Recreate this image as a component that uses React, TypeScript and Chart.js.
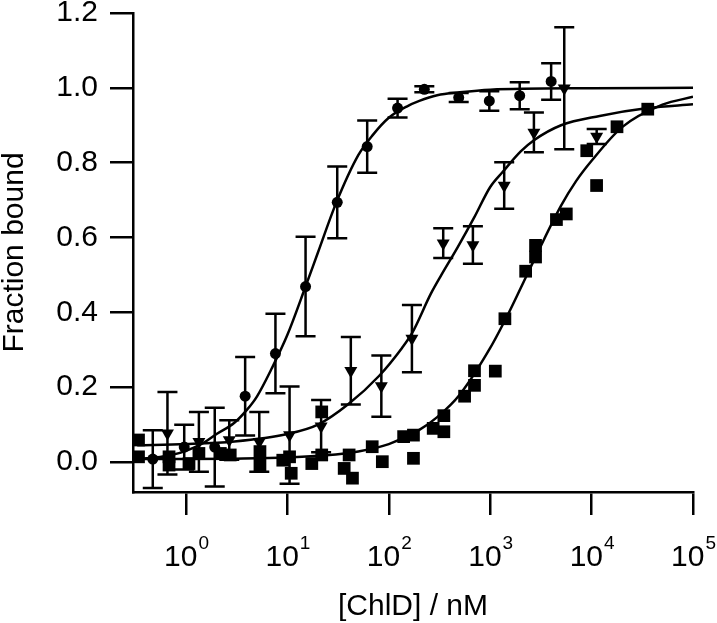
import React, { useEffect, useRef } from 'react';
import { Chart, registerables } from 'chart.js';

Chart.register(...registerables);

const FONT = "'Liberation Sans', Arial, Helvetica, sans-serif";

// ---- circles (with error bars)
const circleX = [0.47, 0.96, 1.92, 3.83, 7.62, 15.1, 31, 61.2, 122, 224, 489, 980, 1954, 3990];
const circleY = [0.008, 0.04, 0.04, 0.176, 0.29, 0.469, 0.694, 0.843, 0.946, 0.996, 0.974, 0.965, 0.979, 1.017];
const circleErr = [0.077, 0.06, 0.105, 0.105, 0.106, 0.133, 0.096, 0.07, 0.025, 0.008, 0.012, 0.026, 0.036, 0.049];

// ---- down triangles (with error bars)
const triX = [0.656, 1.34, 2.67, 5.28, 10.5, 21.5, 42.2, 84.4, 169, 344, 675, 1374, 2698, 5373, 11222];
const triY = [0.077, 0.054, 0.059, 0.054, 0.072, 0.096, 0.244, 0.203, 0.33, 0.585, 0.58, 0.739, 0.881, 0.999, 0.87];
const triErr = [0.11, 0.08, 0.053, 0.08, 0.13, 0.07, 0.09, 0.082, 0.09, 0.04, 0.05, 0.062, 0.053, 0.163, 0.02];

// ---- squares
const squareX = [0.34, 0.34, 0.68, 0.68, 1.07, 1.34, 2.18, 2.73, 5.36, 5.36, 9.0, 10.5, 10.9, 17.4, 21.8, 21.8, 36.3, 40.6, 43.8, 68.6, 86.3, 140, 175, 175, 274, 349, 349, 559, 700, 700, 1123, 1396, 2237, 2800, 2800, 4500, 5630, 8960, 11200, 17800, 35800];
const squareY = [0.059, 0.014, 0.014, -0.008, -0.004, 0.023, 0.023, 0.019, 0.028, -0.008, 0.005, 0.014, -0.03, -0.004, 0.019, 0.134, -0.017, 0.019, -0.043, 0.041, 0.001, 0.068, 0.072, 0.01, 0.09, 0.124, 0.081, 0.176, 0.244, 0.205, 0.243, 0.383, 0.51, 0.579, 0.548, 0.648, 0.663, 0.832, 0.739, 0.896, 0.943];

// ---- fitted curves
const circleFitX = [0.33, 0.5, 0.7, 1, 1.5, 2, 3, 4, 5, 7, 10, 15, 20, 30, 50, 70, 100, 150, 200, 300, 500, 1000, 10000, 100000];
const circleFitY = [0.008, 0.012, 0.018, 0.03, 0.052, 0.075, 0.105, 0.14, 0.175, 0.25, 0.34, 0.467, 0.56, 0.69, 0.82, 0.875, 0.92, 0.95, 0.965, 0.98, 0.988, 0.995, 0.999, 1.0];

const triFitX = [0.33, 1, 3, 10, 20, 40, 80, 135, 170, 260, 330, 480, 700, 1000, 1325, 2000, 2700, 5000, 12000, 36000, 100000];
const triFitY = [0.045, 0.048, 0.055, 0.075, 0.1, 0.155, 0.23, 0.305, 0.345, 0.45, 0.5, 0.575, 0.655, 0.735, 0.775, 0.83, 0.86, 0.9, 0.925, 0.946, 0.956];

const squareFitX = [0.33, 1, 3, 10, 30, 50, 100, 200, 300, 500, 1000, 1500, 2000, 3000, 5000, 7000, 10000, 20000, 50000, 100000];
const squareFitY = [0.008, 0.008, 0.009, 0.012, 0.02, 0.028, 0.048, 0.086, 0.12, 0.18, 0.305, 0.395, 0.465, 0.565, 0.685, 0.75, 0.805, 0.895, 0.955, 0.976];

// ---- axes
const yTicks = [0, 0.2, 0.4, 0.6, 0.8, 1.0, 1.2];
const xTickExponents = [0, 1, 2, 3, 4, 5];
const xMin = 0.33;
const xMax = 100000;
const yMin = -0.08;
const yMax = 1.2;

const pts = (xs: number[], ys: number[]) => xs.map((x, i) => ({ x, y: ys[i] }));

const errorBarPlugin = {
  id: 'errorBars',
  afterDatasetsDraw(chart: any) {
    const { ctx } = chart;
    const xs = chart.scales.x;
    const ys = chart.scales.y;
    ctx.save();
    ctx.strokeStyle = '#000';
    ctx.lineWidth = 2.5;
    const sets: [number[], number[], number[]][] = [
      [circleX, circleY, circleErr],
      [triX, triY, triErr],
    ];
    for (const [xv, yv, ev] of sets) {
      xv.forEach((v, i) => {
        const px = xs.getPixelForValue(v);
        const top = ys.getPixelForValue(yv[i] + ev[i]);
        const bot = ys.getPixelForValue(yv[i] - ev[i]);
        ctx.beginPath();
        ctx.moveTo(px, top);
        ctx.lineTo(px, bot);
        ctx.moveTo(px - 10, top);
        ctx.lineTo(px + 10, top);
        ctx.moveTo(px - 10, bot);
        ctx.lineTo(px + 10, bot);
        ctx.stroke();
      });
    }
    ctx.restore();
  },
};

const xLabelPlugin = {
  id: 'xPowerLabels',
  afterDraw(chart: any) {
    const { ctx } = chart;
    const xs = chart.scales.x;
    ctx.save();
    ctx.fillStyle = '#000';
    ctx.textBaseline = 'alphabetic';
    ctx.textAlign = 'left';
    for (const e of xTickExponents) {
      const px = xs.getPixelForValue(Math.pow(10, e));
      const base = '10';
      const exp = String(e);
      ctx.font = `30px ${FONT}`;
      const wb = ctx.measureText(base).width;
      ctx.font = `19px ${FONT}`;
      const we = ctx.measureText(exp).width;
      const start = px - (wb + we) / 2;
      ctx.font = `30px ${FONT}`;
      ctx.fillText(base, start, 566);
      ctx.font = `19px ${FONT}`;
      ctx.fillText(exp, start + wb + 1, 549);
    }
    ctx.restore();
  },
};

export default function App() {
  const ref = useRef<HTMLCanvasElement | null>(null);

  useEffect(() => {
    if (!ref.current) return;
    const black = '#000';
    const chart = new Chart(ref.current, {
      type: 'scatter',
      data: {
        datasets: [
          {
            type: 'line',
            data: pts(circleFitX, circleFitY),
            borderColor: black,
            borderWidth: 2.5,
            pointRadius: 0,
            cubicInterpolationMode: 'monotone',
            fill: false,
          } as any,
          {
            type: 'line',
            data: pts(triFitX, triFitY),
            borderColor: black,
            borderWidth: 2.5,
            pointRadius: 0,
            cubicInterpolationMode: 'monotone',
            fill: false,
          } as any,
          {
            type: 'line',
            data: pts(squareFitX, squareFitY),
            borderColor: black,
            borderWidth: 2.5,
            pointRadius: 0,
            cubicInterpolationMode: 'monotone',
            fill: false,
          } as any,
          {
            data: pts(circleX, circleY),
            pointStyle: 'circle',
            pointRadius: 5.5,
            backgroundColor: black,
            borderColor: black,
            borderWidth: 0,
            clip: false,
          } as any,
          {
            data: pts(triX, triY),
            pointStyle: 'triangle',
            rotation: 180,
            pointRadius: 7.5,
            backgroundColor: black,
            borderColor: black,
            borderWidth: 0,
            clip: false,
          } as any,
          {
            data: pts(squareX, squareY),
            pointStyle: 'rect',
            pointRadius: 9,
            backgroundColor: black,
            borderColor: black,
            borderWidth: 0,
            clip: false,
          } as any,
        ],
      },
      options: {
        animation: false,
        responsive: false,
        devicePixelRatio: 1,
        events: [],
        layout: { padding: { left: 0, top: 13, right: 24, bottom: 0 } },
        plugins: {
          legend: { display: false },
          tooltip: { enabled: false },
        },
        scales: {
          x: {
            type: 'logarithmic',
            min: xMin,
            max: xMax,
            afterBuildTicks: (s: any) => {
              s.ticks = xTickExponents.map((e) => ({ value: Math.pow(10, e) }));
            },
            afterFit: (s: any) => {
              s.height = 623 - 492;
              s.paddingLeft = 0;
              s.paddingRight = 0;
            },
            ticks: { display: false },
            grid: {
              display: true,
              drawOnChartArea: false,
              drawTicks: true,
              tickLength: 23,
              color: black,
              lineWidth: 2.5,
            },
            border: { display: true, color: black, width: 2.5 },
            title: {
              display: true,
              text: '[ChlD] / nM',
              color: black,
              font: { family: FONT, size: 30, lineHeight: 1 },
              padding: { top: 0, bottom: 1 },
            },
          },
          y: {
            type: 'linear',
            min: yMin,
            max: yMax,
            afterBuildTicks: (s: any) => {
              s.ticks = yTicks.map((v) => ({ value: v }));
            },
            afterFit: (s: any) => {
              s.width = 133;
              s.paddingTop = 0;
              s.paddingBottom = 0;
            },
            ticks: {
              color: black,
              padding: 12,
              font: { family: FONT, size: 30 },
              callback: (v: any) => Number(v).toFixed(1),
            },
            grid: {
              display: true,
              drawOnChartArea: false,
              drawTicks: true,
              tickLength: 23,
              color: black,
              lineWidth: 2.5,
            },
            border: { display: true, color: black, width: 2.5 },
            title: {
              display: true,
              text: 'Fraction bound',
              color: black,
              font: { family: FONT, size: 30, lineHeight: 1 },
              padding: { top: 0, bottom: 0 },
            },
          },
        },
      } as any,
      plugins: [errorBarPlugin, xLabelPlugin],
    });
    return () => chart.destroy();
  }, []);

  return (
    <div style={{ position: 'absolute', left: 0, top: 0, width: 717, height: 623, background: '#fff' }}>
      <canvas ref={ref} width={717} height={623} style={{ display: 'block', width: 717, height: 623 }} />
    </div>
  );
}
